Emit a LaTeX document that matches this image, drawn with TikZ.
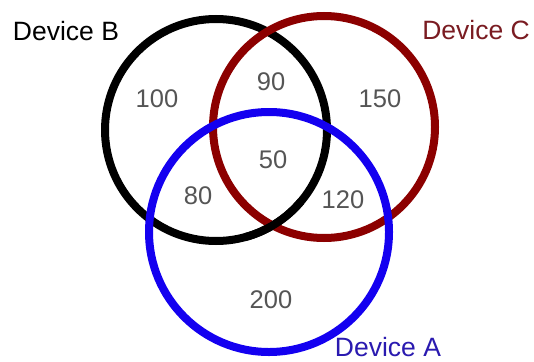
\documentclass[tikz,border=0pt]{standalone}
\usepackage{fontspec}
\setmainfont{Liberation Sans}
\definecolor{cB}{HTML}{000000}
\definecolor{cC}{HTML}{8C0000}
\definecolor{cA}{HTML}{1400F0}
\definecolor{labC}{HTML}{7A1C22}
\definecolor{labA}{HTML}{2A1AB0}
\definecolor{num}{HTML}{555555}
\begin{document}
\begin{tikzpicture}[x=1pt,y=-1pt,
  ring/.style={line width=8pt},
  num/.style={text=num,font=\fontsize{25.5}{25.5}\selectfont,inner sep=0pt},
  lab/.style={font=\fontsize{26.5}{26.5}\selectfont,inner sep=0pt}]
\useasboundingbox (0,0) rectangle (534,361);
\fill[white] (0,0) rectangle (534,361);
\coordinate (cb) at (216,130);
\coordinate (cc) at (324,127);
\coordinate (ca) at (269,232);
\draw[ring,cB] (cb) circle[radius=111];
\draw[ring,cC] (cc) circle[radius=111];
\draw[ring,cB] ([shift={(40:111)}]cb) arc[start angle=40,end angle=75,radius=111];
\draw[ring,cA] (ca) circle[radius=120];
\node[lab,text=black] (lb) at (66,31) {Device B};
\node[lab,text=labC] (lc) at (476,30) {Device C};
\node[lab,text=labA] (la) at (388,347) {Device A};
\node[num] (n100) at (157,99) {100};
\node[num] (n90) at (271,82) {90};
\node[num] (n150) at (380,99) {150};
\node[num] (n50) at (273,160) {50};
\node[num] (n80) at (198,196) {80};
\node[num] (n120) at (343,200) {120};
\node[num] (n200) at (271,300) {200};
\end{tikzpicture}
\end{document}
